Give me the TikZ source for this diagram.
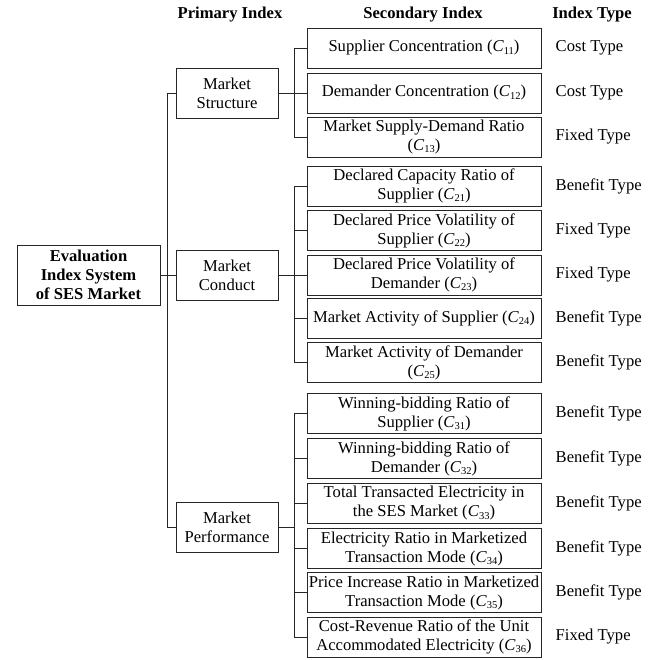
\documentclass[tikz,border=0pt]{standalone}
\usepackage{fontspec}
\setmainfont{Liberation Serif}
\newcommand{\Cs}[1]{\textit{C}\raisebox{-0.3ex}{\fontsize{10.5}{10.5}\selectfont #1}}
\begin{document}
\begin{tikzpicture}[x=1pt,y=-1pt,
  every node/.style={font=\fontsize{16.6}{19}\selectfont},
  box/.style={draw=black!85,line width=1pt,align=center,inner xsep=1pt,inner ysep=0pt},
  sec/.style={box,minimum width=234pt,minimum height=40pt},
  pri/.style={box,minimum width=102pt,minimum height=50pt},
  head/.style={font=\fontsize{16.6}{19}\selectfont\bfseries},
  typ/.style={anchor=west,inner sep=0pt},
  conn/.style={draw=black!85,line width=0.9pt}]
\useasboundingbox (0,0) rectangle (667,659);
% headers
\node[head] (h1) at (230,15) {Primary Index};
\node[head] (h2) at (423,15) {Secondary Index};
\node[head] (h3) at (592,15) {Index Type};
% root
\node[box,minimum width=143pt,minimum height=60pt,font=\fontsize{16.6}{19}\selectfont\bfseries] (root) at (88.5,275) {Evaluation\\Index System\\of SES Market};
% primary
\node[pri] (ms) at (227,93) {Market\\Structure};
\node[pri] (mc) at (227,275) {Market\\Conduct};
\node[pri] (mp) at (227,527) {Market\\Performance};
% secondary
\node[sec] (c11) at (424,48) {Supplier Concentration (\Cs{11})};
\node[sec] (c12) at (424,93) {Demander Concentration (\Cs{12})};
\node[sec] (c13) at (424,137) {Market Supply-Demand Ratio\\(\Cs{13})};
\node[sec] (c21) at (424,186) {Declared Capacity Ratio of\\Supplier (\Cs{21})};
\node[sec] (c22) at (424,230.5) {Declared Price Volatility of\\Supplier (\Cs{22})};
\node[sec] (c23) at (424,275) {Declared Price Volatility of\\Demander (\Cs{23})};
\node[sec] (c24) at (424,318.5) {Market Activity of Supplier (\Cs{24})};
\node[sec] (c25) at (424,362.5) {Market Activity of Demander\\(\Cs{25})};
\node[sec] (c31) at (424,413.5) {Winning-bidding Ratio of\\Supplier (\Cs{31})};
\node[sec] (c32) at (424,458.5) {Winning-bidding Ratio of\\Demander (\Cs{32})};
\node[sec] (c33) at (424,503.5) {Total Transacted Electricity in\\the SES Market (\Cs{33})};
\node[sec] (c34) at (424,548.5) {Electricity Ratio in Marketized\\Transaction Mode (\Cs{34})};
\node[sec] (c35) at (424,592.5) {Price Increase Ratio in Marketized\\Transaction Mode (\Cs{35})};
\node[sec] (c36) at (424,637) {Cost-Revenue Ratio of the Unit\\Accommodated Electricity (\Cs{36})};
% types
\foreach \n/\t in {c11/Cost Type,c12/Cost Type,c13/Fixed Type,c21/Benefit Type,c22/Fixed Type,c23/Fixed Type,c24/Benefit Type,c25/Benefit Type,c31/Benefit Type,c32/Benefit Type,c33/Benefit Type,c34/Benefit Type,c35/Benefit Type,c36/Fixed Type}
  \node[typ] (t\n) at ([xshift=14pt]\n.east) {\t};
% connectors
\coordinate (tr) at (167,0);
\coordinate (br) at (294,0);
\draw[conn] (root.east) -- (mc.west);
\draw[conn] (ms.west) -- (ms.west -| tr) -- (mp.west -| tr) -- (mp.west);
\draw[conn] (ms.east) -- (c12.west);
\draw[conn] (c11.west) -- (c11.west -| br) -- (c13.west -| br) -- (c13.west);
\draw[conn] (mc.east) -- (c23.west);
\draw[conn] (c21.west) -- (c21.west -| br) -- (c25.west -| br) -- (c25.west);
\foreach \n in {c22,c24} \draw[conn] (\n.west) -- (\n.west -| br);
\draw[conn] (mp.east) -- (mp.east -| br);
\draw[conn] (c31.west) -- (c31.west -| br) -- (c36.west -| br) -- (c36.west);
\foreach \n in {c32,c33,c34,c35} \draw[conn] (\n.west) -- (\n.west -| br);
\end{tikzpicture}
\end{document}
